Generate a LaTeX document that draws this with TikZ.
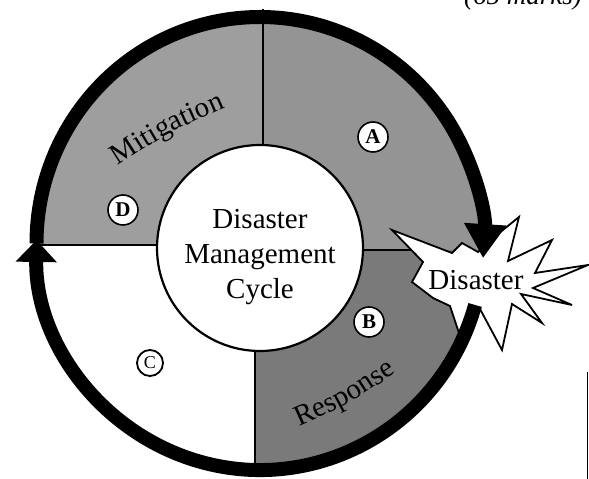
\documentclass[tikz,border=0pt]{standalone}
\usepackage{fontspec}
\setmainfont{Liberation Serif}
\usetikzlibrary{arrows.meta,decorations.text}
\begin{document}
\begin{tikzpicture}[x=1pt,y=1pt,
  letterc/.style={circle,draw,line width=1.6pt,fill=white,minimum size=30pt,inner sep=0pt,font=\fontsize{21}{21}\selectfont\bfseries},
  copyc/.style={circle,draw,line width=1.8pt,fill=white,minimum size=26pt,inner sep=0pt,font=\fontsize{18}{18}\selectfont},
  bigtext/.style={font=\fontsize{29}{29}\selectfont, inner sep=0pt, anchor=base},
  divider/.style={line width=2pt},
  ringline/.style={line width=14pt},
  burst/.style={draw, line width=1.8pt, fill=white, line join=miter},
]
\useasboundingbox (0,0) rectangle (589,479);
\coordinate (O) at (260,235.5);
% quadrant fills
\begin{scope}
  \clip (O) ellipse [x radius=223.5, y radius=226.5];
  \fill[black!38] (0,234) rectangle (263,479);
  \fill[black!42] (263,229) rectangle (589,479);
  \fill[black!52] (255,0) rectangle (589,229);
\end{scope}
% dividers
\coordinate (dt1) at (263,470); \coordinate (dt2) at (263,330);
\coordinate (dl1) at (36,234);  \coordinate (dl2) at (170,234);
\coordinate (dr1) at (350,229); \coordinate (dr2) at (425,229);
\coordinate (db1) at (255,10);  \coordinate (db2) at (255,140);
\draw[divider] (dt1) -- (dt2);
\draw[divider] (dl1) -- (dl2);
\draw[divider] (dr1) -- (dr2);
\draw[divider] (db1) -- (db2);
% hub
\node[circle, draw, line width=2.2pt, fill=white, minimum size=206pt, inner sep=0pt] (hub) at (260,231) {};
\node[bigtext] (t1) at (260,250) {Disaster};
\node[bigtext] (t2) at (260,215) {Management};
\node[bigtext] (t3) at (260,180) {Cycle};
% starburst
\draw[burst] (392,249) -- (452,226) -- (462,236) -- (478,227) -- (498,245) -- (519,262)
  -- (508,218) -- (552,239) -- (535,206) -- (588,214) -- (533,191) -- (572,174)
  -- (521,185) -- (542,156) -- (512,175) -- (502,129) -- (480,170) -- (463,134)
  -- (450,173) -- (433,181) -- (412,197) -- (423,217) -- cycle;
\node[bigtext] (dis) at (476,189) {Disaster};
% ring
\draw[ringline, -{Triangle[width=40pt,length=34pt]}] (36.5,235.5)
  arc[start angle=180, end angle=-3.7, x radius=223.5, y radius=226.5];
\draw[ringline, -{Triangle[width=40pt,length=22pt]}] (475.1,174)
  arc[start angle=-15.75, end angle=-180.9, x radius=223.5, y radius=226.5];
% letters
\node[letterc] (a) at (373,342) {A};
\node[letterc] (b) at (369,157) {B};
\node[letterc] (d) at (123,269) {D};
\node[copyc] (c) at (150,116) {C};
% curved labels
\path[decorate, decoration={text along path, text align=center,
  text={|\fontsize{29}{29}\selectfont|Mitigation}}]
  (108.2,307.3) .. controls (169.2,346.8) .. (235.8,375.7);
\path[decorate, decoration={text along path, text align=center,
  text={|\fontsize{29}{29}\selectfont|Response}}]
  (288.0,47.4) .. controls (350.1,75.2) .. (406.3,113.4);
% marks
\node[font=\fontsize{27}{27}\selectfont\itshape, anchor=base east, inner sep=0pt] (marks) at (582,474) {(65 marks)};
% page edge
\coordinate (e1) at (587.5,107); \coordinate (e2) at (587.5,0);
\draw[line width=1.2pt] (e1) -- (e2);
\end{tikzpicture}
\end{document}
